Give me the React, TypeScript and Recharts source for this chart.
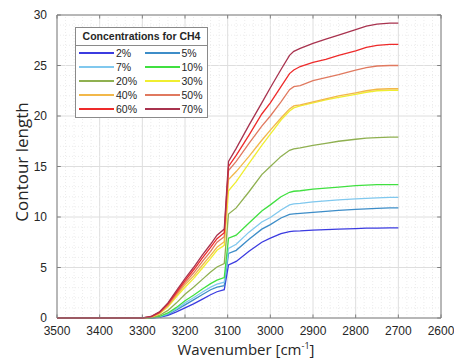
import React from 'react';
import {
  LineChart,
  Line,
  XAxis,
  YAxis,
  CartesianGrid,
  ReferenceLine,
  Label,
} from 'recharts';

// wavenumber samples (cm^-1)
const wavenumbers = [
  3500, 3400, 3300, 3280, 3260, 3240, 3220, 3200, 3180, 3160, 3140, 3125, 3108, 3098, 3080,
  3050, 3020, 3000, 2975, 2955, 2945, 2930, 2900, 2870, 2840, 2800, 2775, 2750, 2720, 2700,
];

const ch4_2 = [0, 0, 0, 0, 0.06, 0.25, 0.6, 1.0, 1.4, 1.85, 2.3, 2.6, 2.8, 5.25, 5.6, 6.6, 7.5, 7.9, 8.35, 8.55, 8.6, 8.62, 8.7, 8.75, 8.8, 8.85, 8.9, 8.9, 8.92, 8.92];
const ch4_5 = [0, 0, 0, 0.01, 0.1, 0.36, 0.8, 1.3, 1.8, 2.3, 2.8, 3.05, 3.2, 6.4, 6.7, 7.8, 8.8, 9.25, 9.9, 10.25, 10.3, 10.35, 10.45, 10.55, 10.65, 10.75, 10.8, 10.85, 10.9, 10.9];
const ch4_7 = [0, 0, 0, 0.01, 0.12, 0.42, 0.9, 1.5, 2.0, 2.55, 3.05, 3.35, 3.55, 6.9, 7.3, 8.5, 9.5, 9.95, 10.7, 11.2, 11.3, 11.35, 11.5, 11.6, 11.7, 11.8, 11.85, 11.9, 11.95, 11.95];
const ch4_10 = [0, 0, 0, 0.02, 0.15, 0.5, 1.05, 1.7, 2.25, 2.85, 3.4, 3.75, 4.0, 7.9, 8.2, 9.4, 10.6, 11.2, 12.0, 12.45, 12.55, 12.6, 12.75, 12.85, 12.95, 13.1, 13.15, 13.2, 13.2, 13.2];
const ch4_20 = [0, 0, 0, 0.03, 0.25, 0.75, 1.5, 2.35, 3.05, 3.8, 4.55, 5.05, 5.4, 10.3, 10.9, 12.5, 14.2, 15.0, 16.0, 16.6, 16.75, 16.85, 17.1, 17.3, 17.5, 17.7, 17.8, 17.85, 17.9, 17.9];
const ch4_30 = [0, 0, 0, 0.06, 0.4, 1.1, 2.1, 3.05, 3.9, 4.9, 5.9, 6.7, 7.2, 12.6, 13.5, 15.3, 17.1, 18.2, 19.6, 20.5, 20.8, 21.0, 21.3, 21.6, 21.85, 22.15, 22.35, 22.5, 22.55, 22.55];
const ch4_40 = [0, 0, 0, 0.08, 0.45, 1.2, 2.25, 3.3, 4.15, 5.2, 6.2, 7.0, 7.55, 13.7, 14.5, 16.0, 17.6, 18.6, 19.8, 20.7, 21.0, 21.1, 21.4, 21.7, 22.0, 22.3, 22.5, 22.65, 22.7, 22.7];
const ch4_50 = [0, 0, 0, 0.1, 0.5, 1.3, 2.4, 3.5, 4.45, 5.55, 6.6, 7.5, 8.05, 14.6, 15.5, 17.3, 19.0, 20.0, 21.4, 22.6, 22.9, 23.0, 23.5, 23.8, 24.1, 24.55, 24.8, 24.95, 25.0, 25.0];
const ch4_60 = [0, 0, 0, 0.12, 0.55, 1.4, 2.55, 3.7, 4.75, 5.9, 7.0, 7.85, 8.45, 15.0, 16.1, 18.1, 20.2, 21.3, 22.9, 24.2, 24.55, 24.9, 25.3, 25.6, 26.0, 26.45, 26.8, 27.0, 27.1, 27.1];
const ch4_70 = [0, 0, 0, 0.15, 0.6, 1.5, 2.7, 3.9, 5.0, 6.2, 7.3, 8.2, 8.8, 15.5, 16.8, 19.1, 21.3, 22.8, 24.6, 26.0, 26.4, 26.7, 27.2, 27.6, 28.0, 28.55, 28.9, 29.1, 29.2, 29.2];

const seriesNames = ['2%', '5%', '7%', '10%', '20%', '30%', '40%', '50%', '60%', '70%'];
const seriesValues = [ch4_2, ch4_5, ch4_7, ch4_10, ch4_20, ch4_30, ch4_40, ch4_50, ch4_60, ch4_70];
const seriesColors = [
  '#3b3be0', '#3d8dc8', '#80c8ee', '#40e040', '#8fb050',
  '#f0ee30', '#f2b84a', '#e0795f', '#ee2a2a', '#a8324e',
];

const xTicks = [3500, 3400, 3300, 3200, 3100, 3000, 2900, 2800, 2700, 2600];
const yTicks = [0, 5, 10, 15, 20, 25, 30];

const data = wavenumbers.map((w, i) => {
  const row: Record<string, number> = { w };
  seriesNames.forEach((name, k) => {
    row[name] = seriesValues[k][i];
  });
  return row;
});

// minor grid (MATLAB "grid minor")
const minorX: number[] = [];
for (let v = 2620; v < 3500; v += 20) if (v % 100 !== 0) minorX.push(v);
const minorY: number[] = [];
for (let v = 1; v < 30; v++) if (v % 5 !== 0) minorY.push(v);

const axisColor = '#808080';
const textColor = '#262626';
const tickFont = "'Liberation Sans', Arial, sans-serif";

const XTitle = () => (
  <text x={246} y={355} textAnchor="middle" fontSize={15} fill={textColor} fontFamily="'Open Sans', sans-serif">
    Wavenumber [cm
    <tspan dy={-6} fontSize={9}>-1</tspan>
    <tspan dy={6}>]</tspan>
  </text>
);

const YTitle = () => (
  <text
    x={28}
    y={162}
    textAnchor="middle"
    fontSize={17}
    fill={textColor}
    fontFamily="'Open Sans', sans-serif"
    transform="rotate(-90 28 162)"
  >
    Contour length
  </text>
);

const LegendBox = () => {
  const rows = [0, 1, 2, 3, 4];
  return (
    <div
      style={{
        position: 'absolute',
        left: 75,
        top: 27,
        width: 133,
        height: 91,
        border: '1px solid #8a8a8a',
        background: '#fff',
        fontFamily: tickFont,
        fontSize: 10.5,
        color: textColor,
        boxSizing: 'border-box',
      }}
    >
      <div style={{ fontWeight: 'bold', textAlign: 'center', height: 17, lineHeight: '17px', borderBottom: '1px solid #8a8a8a' }}>
        Concentrations for CH4
      </div>
      {rows.map((r) => (
        <div key={r} style={{ display: 'flex', height: 14, alignItems: 'center' }}>
          {[0, 1].map((c) => {
            const k = r * 2 + c;
            return (
              <div key={c} style={{ display: 'flex', alignItems: 'center', width: 66 }}>
                <div style={{ marginLeft: 3, width: 35, height: 2, background: seriesColors[k] }} />
                <span style={{ marginLeft: 2 }}>{seriesNames[k]}</span>
              </div>
            );
          })}
        </div>
      ))}
    </div>
  );
};

export default function App() {
  return (
    <div style={{ position: 'absolute', left: 0, top: 0, width: 454, height: 360, background: '#fff' }}>
      <LineChart
        width={454}
        height={360}
        data={data}
        margin={{ top: 15, right: 13, left: 0, bottom: 0 }}
      >
        {minorX.map((v) => (
          <ReferenceLine key={'mx' + v} x={v} stroke="#ececec" strokeDasharray="1 2" />
        ))}
        {minorY.map((v) => (
          <ReferenceLine key={'my' + v} y={v} stroke="#ececec" strokeDasharray="1 2" />
        ))}
        <CartesianGrid stroke="#dedede" />
        <XAxis
          dataKey="w"
          type="number"
          domain={[2600, 3500]}
          reversed
          ticks={xTicks}
          interval={0}
          height={42}
          tickLine={false}
          tickMargin={2}
          stroke={axisColor}
          tick={{ fill: textColor, fontSize: 12, fontFamily: tickFont }}
        >
          <Label content={<XTitle />} />
        </XAxis>
        <YAxis
          type="number"
          domain={[0, 30]}
          ticks={yTicks}
          interval={0}
          width={57}
          tickLine={false}
          tickMargin={4}
          stroke={axisColor}
          tick={{ fill: textColor, fontSize: 12, fontFamily: tickFont }}
        >
          <Label content={<YTitle />} />
        </YAxis>
        <ReferenceLine y={30} stroke={axisColor} />
        <ReferenceLine x={2600} stroke={axisColor} />
        {xTicks.map((t) => (
          <ReferenceLine key={'tb' + t} segment={[{ x: t, y: 0 }, { x: t, y: 0.35 }]} stroke={axisColor} />
        ))}
        {xTicks.map((t) => (
          <ReferenceLine key={'tt' + t} segment={[{ x: t, y: 30 }, { x: t, y: 29.65 }]} stroke={axisColor} />
        ))}
        {yTicks.map((t) => (
          <ReferenceLine key={'tl' + t} segment={[{ x: 3500, y: t }, { x: 3491, y: t }]} stroke={axisColor} />
        ))}
        {yTicks.map((t) => (
          <ReferenceLine key={'tr' + t} segment={[{ x: 2600, y: t }, { x: 2609, y: t }]} stroke={axisColor} />
        ))}
        {seriesNames.map((name, k) => (
          <Line
            key={name}
            dataKey={name}
            stroke={seriesColors[k]}
            strokeWidth={1.3}
            dot={false}
            activeDot={false}
            type="linear"
            isAnimationActive={false}
          />
        ))}
      </LineChart>
      <LegendBox />
    </div>
  );
}
